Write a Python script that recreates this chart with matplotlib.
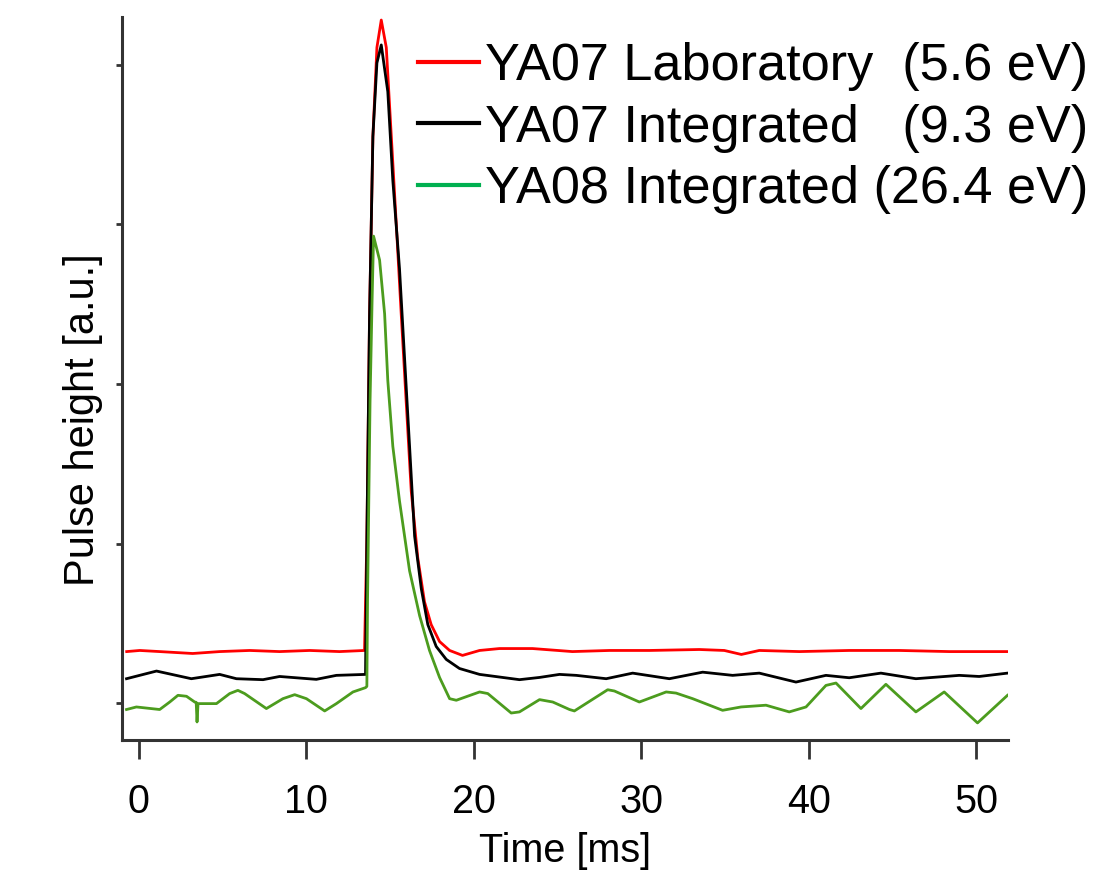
import numpy as np
import matplotlib
matplotlib.use('Agg')
import matplotlib.pyplot as plt
from matplotlib.lines import Line2D

plt.rcParams['font.family'] = ['Liberation Sans', 'DejaVu Sans']

# time [ms] and pulse height [a.u.]
t_red = [-0.72, 0.06, 1.25, 3.22, 4.83, 6.62, 8.41, 10.20, 11.99, 13.48, 13.62, 13.78, 13.98, 14.22,
         14.48, 14.78, 15.08, 15.38, 15.67, 15.97, 16.27, 16.66, 17.06, 17.46, 17.96, 18.56,
         19.33, 20.35, 21.54, 23.51, 25.89, 28.10, 30.49, 33.47, 34.96, 35.98, 37.05, 39.44,
         42.42, 45.41, 48.39, 51.85]
y_red = [0.324, 0.331, 0.324, 0.312, 0.324, 0.331, 0.324, 0.331, 0.324, 0.331, 1.030, 2.427, 3.551, 4.109,
         4.281, 4.109, 3.551, 2.995, 2.440, 1.885, 1.329, 0.911, 0.636, 0.493, 0.387, 0.331,
         0.300, 0.331, 0.343, 0.343, 0.324, 0.331, 0.331, 0.337, 0.331, 0.306, 0.331, 0.324,
         0.331, 0.331, 0.324, 0.324]

t_blk = [-0.73, 1.06, 3.14, 4.83, 5.83, 7.42, 8.41, 10.60, 11.80, 13.54, 13.62, 13.78, 13.98, 14.22,
         14.48, 14.87, 15.17, 15.57, 15.87, 16.17, 16.47, 16.87, 17.26, 17.76, 18.36, 19.15,
         20.35, 22.73, 23.93, 25.12, 26.12, 27.91, 29.49, 31.68, 33.67, 35.46, 37.05, 39.24,
         41.03, 42.42, 44.31, 46.40, 48.99, 50.18, 51.87]
y_blk = [0.154, 0.202, 0.154, 0.181, 0.154, 0.148, 0.168, 0.150, 0.175, 0.181, 1.030, 2.427, 3.551, 4.012,
         4.125, 3.832, 3.276, 2.721, 2.165, 1.610, 1.048, 0.718, 0.493, 0.356, 0.275, 0.218,
         0.181, 0.148, 0.162, 0.181, 0.175, 0.154, 0.189, 0.154, 0.195, 0.175, 0.189, 0.133,
         0.175, 0.160, 0.189, 0.154, 0.175, 0.168, 0.189]

t_grn = [-0.73, -0.14, 1.25, 1.85, 2.34, 2.85, 3.34, 3.43, 3.48, 3.54, 3.64, 4.64, 5.43, 5.92,
         6.32, 7.62, 8.61, 9.31, 10.01, 11.10, 11.80, 12.79, 13.54, 13.62, 13.66, 13.81, 13.93,
         14.02, 14.38, 14.68, 14.87, 15.17, 15.57, 16.17, 16.77, 17.36, 17.96, 18.56, 18.96,
         20.35, 20.84, 22.24, 22.73, 23.93, 24.72, 25.72, 26.01, 28.00, 28.40, 29.89, 31.49,
         32.08, 33.07, 34.86, 35.96, 37.45, 38.84, 39.84, 41.03, 41.63, 43.12, 44.61, 46.40,
         48.09, 50.08, 51.87]
y_grn = [-0.039, -0.023, -0.039, 0.008, 0.050, 0.044, 0.008, 0.006, -0.117, -0.002, -0.002, -0.002, 0.061, 0.081,
         0.061, -0.033, 0.029, 0.054, 0.029, -0.048, -0.002, 0.071, 0.098, 0.106, 0.643, 1.891, 2.515,
         2.927, 2.777, 2.440, 2.022, 1.610, 1.267, 0.830, 0.549, 0.331, 0.162, 0.029, 0.019,
         0.071, 0.061, -0.061, -0.054, 0.023, 0.008, -0.039, -0.048, 0.085, 0.077, 0.008, 0.071,
         0.064, 0.029, -0.044, -0.023, -0.012, -0.054, -0.023, 0.112, 0.127, -0.033, 0.119, -0.054,
         0.071, -0.123, 0.050]

labels = ['YA07 Laboratory  (5.6 eV)', 'YA07 Integrated   (9.3 eV)', 'YA08 Integrated (26.4 eV)']
line_colors = ['#ff0000', '#000000', '#4c9c1e']
legend_colors = ['#ff0000', '#000000', '#00b050']

fig = plt.figure(figsize=(11.2, 8.96), dpi=100)
ax = fig.add_axes([122 / 1120, 1 - 740 / 896, 886 / 1120, 723 / 896])

ax.plot(t_red, y_red, color=line_colors[0], lw=2.0)
ax.plot(t_blk, y_blk, color=line_colors[1], lw=2.0)
ax.plot(t_grn, y_grn, color=line_colors[2], lw=2.0)

ax.set_xlim(-1.0, 51.9)
ax.set_ylim(-0.23, 4.30)
ax.set_xticks([0, 10, 20, 30, 40, 50])
ax.set_yticks([0, 1, 2, 3, 4])
ax.set_yticklabels([])

for s in ['top', 'right']:
    ax.spines[s].set_visible(False)
for s in ['left', 'bottom']:
    ax.spines[s].set_linewidth(2.2)
    ax.spines[s].set_color('#333333')

ax.tick_params(axis='x', direction='out', length=14, width=2, color='#333333',
               labelsize=28.5, pad=17)
ax.tick_params(axis='y', direction='out', length=4.5, width=2, color='#333333')

ax.set_xlabel('Time [ms]', fontsize=28.5, labelpad=8)
ax.set_ylabel('Pulse height [a.u.]', fontsize=30)
ax.yaxis.set_label_coords(-0.022, 0.443)

handles = [Line2D([], [], color=c, lw=3.0) for c in legend_colors]
leg = ax.legend(handles, labels, loc='upper right', bbox_to_anchor=(1088 / 1120, 1 - 42 / 896),
                bbox_transform=fig.transFigure, frameon=False, fontsize=37.6, borderpad=0,
                handlelength=1.17, handletextpad=0.115, labelspacing=0.24, borderaxespad=0)

fig.savefig('out.png', dpi=100)
